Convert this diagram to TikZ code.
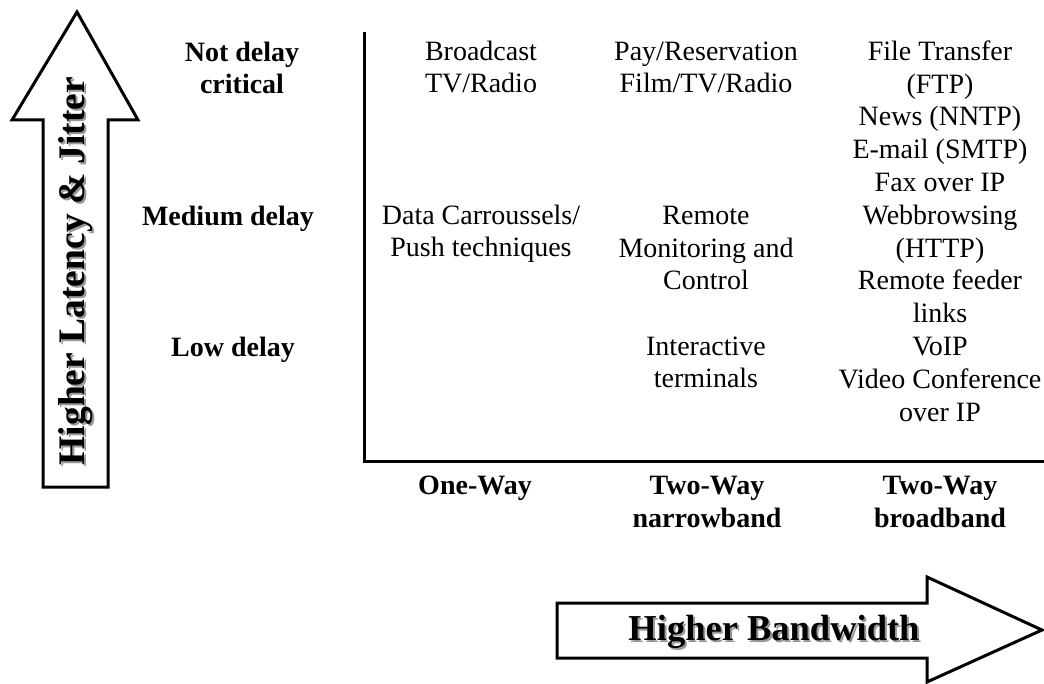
\documentclass[tikz,border=0pt]{standalone}
\usepackage{fontspec}
\setmainfont{Liberation Serif}
\begin{document}
\begin{tikzpicture}[x=1pt,y=-1pt,
  cell/.style={inner sep=0pt,anchor=base,align=center,font=\fontsize{28}{32.8}\selectfont},
  rowlab/.style={cell,font=\fontsize{28}{32.8}\selectfont\bfseries},
  bigarrow/.style={draw=black,line width=3pt,fill=white,line join=miter},
  arrowtext/.style={inner sep=0pt,font=\fontsize{36.5}{40}\selectfont\bfseries},
  tallarrowtext/.style={inner sep=0pt,font=\fontsize{37.5}{40}\selectfont\bfseries},
  shadow/.style={text=black!40},
  axis/.style={draw=black,line width=3pt}]
\useasboundingbox (0,0) rectangle (1044,684);
\fill[white] (0,0) rectangle (1044,684);

% vertical arrow: latency and jitter
\draw[bigarrow] (43,487) -- (43,120) -- (12,120) -- (77,12) -- (138,120) -- (108,120) -- (108,487) -- cycle;
\node[tallarrowtext,shadow,rotate=90] (latshadow) at (78,273) {Higher Latency \& Jitter};
\node[tallarrowtext,rotate=90] (latency) at (76,271) {Higher Latency \& Jitter};

% horizontal arrow: bandwidth
\draw[bigarrow] (557,603) -- (927,603) -- (927,577) -- (1042,630) -- (927,682) -- (927,658) -- (557,658) -- cycle;
\node[arrowtext,shadow] (bwshadow) at (776,634) {Higher Bandwidth};
\node[arrowtext] (bandwidth) at (774,632) {Higher Bandwidth};

% axes
\coordinate (axtop) at (364,32);
\coordinate (axorigin) at (364,461);
\coordinate (axright) at (1044,461);
\draw[axis] (axtop) -- (axorigin) -- (axright);

% delay classes (anchored at the baseline of the last line)
\node[rowlab] (notdelay) at (242,94) {Not delay\\critical};
\node[rowlab] (medium) at (228,226) {Medium delay};
\node[rowlab] (low) at (233,357) {Low delay};

% bandwidth classes
\node[rowlab] (oneway) at (475,494) {One-Way};
\node[rowlab] (narrow) at (707,527) {Two-Way\\narrowband};
\node[rowlab] (broad) at (940,527) {Two-Way\\broadband};

% one-way services
\node[cell] (broadcast) at (481,93) {Broadcast\\TV/Radio};
\node[cell] (carrousel) at (481,257) {Data Carroussels/\\Push techniques};

% two-way narrowband services
\node[cell] (paytv) at (706,93) {Pay/Reservation\\Film/TV/Radio};
\node[cell] (monitor) at (706,290) {Remote\\Monitoring and\\Control};
\node[cell] (terminals) at (706,388) {Interactive\\terminals};

% two-way broadband services
\node[cell] (ipservices) at (940,421) {File Transfer\\(FTP)\\News (NNTP)\\E-mail (SMTP)\\Fax over IP\\Webbrowsing\\(HTTP)\\Remote feeder\\links\\VoIP\\Video Conference\\over IP};
\end{tikzpicture}
\end{document}
